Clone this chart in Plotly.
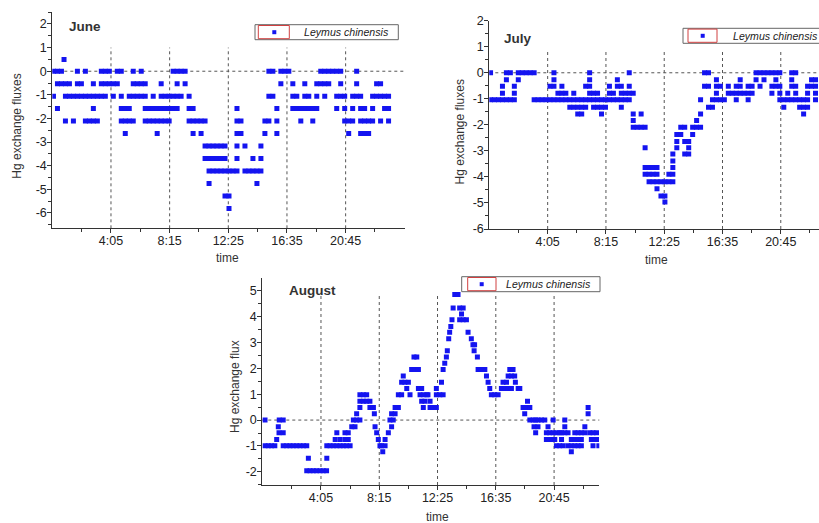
import plotly.graph_objects as go

# ---------------- data (time in minutes after midnight, flux values) ----------------
tick_vals = [245, 495, 745, 995, 1245]
tick_text = ["4:05", "8:15", "12:25", "16:35", "20:45"]
minor_x = [120, 370, 620, 870, 1120, 1370]
series_name = "Leymus chinensis"

june_levels = [0.5, 0, -0.53, -1.06, -1.58, -2.11, -2.64, -3.17, -3.70, -4.22, -4.75, -5.28, -5.81]
june_times = [
    [45],
    [0, 17, 34, 102, 136, 204, 221, 238, 272, 289, 340, 374, 510, 527, 544, 561, 918, 935, 969, 986, 1003,
     1139, 1156, 1173, 1190, 1207, 1224, 1292],
    [17, 34, 51, 68, 102, 119, 170, 204, 221, 238, 255, 272, 340, 357, 374, 391, 459, 527, 561, 969, 1020,
     1071, 1122, 1139, 1156, 1173, 1224, 1292, 1377, 1394],
    [0, 51, 68, 85, 102, 119, 136, 153, 170, 187, 204, 221, 255, 289, 323, 340, 357, 374, 391, 425, 459, 476,
     493, 510, 527, 544, 578, 918, 935, 1020, 1037, 1071, 1088, 1122, 1156, 1207, 1224, 1241, 1275, 1292,
     1309, 1360, 1377, 1394, 1411, 1428],
    [17, 170, 289, 306, 323, 391, 408, 425, 442, 459, 476, 493, 510, 527, 578, 595, 782, 952, 1020, 1037,
     1054, 1071, 1088, 1105, 1122, 1207, 1241, 1275, 1309, 1326, 1360, 1411, 1428],
    [51, 85, 136, 153, 170, 187, 289, 306, 323, 340, 391, 408, 425, 442, 459, 476, 493, 578, 595, 612, 629,
     646, 782, 799, 901, 918, 952, 1054, 1105, 1241, 1258, 1275, 1309, 1326, 1343, 1360, 1394, 1428],
    [306, 442, 595, 629, 782, 799, 901, 952, 1258, 1309, 1326, 1343],
    [646, 663, 680, 697, 714, 731, 782, 816, 884],
    [646, 663, 680, 697, 714, 731, 782, 850, 884],
    [663, 680, 697, 714, 731, 748, 765, 782, 816, 833, 850, 867, 884],
    [663, 867],
    [731, 748],
    [748],
]

july_levels = [0, -0.27, -0.52, -0.79, -1.04, -1.32, -1.58, -1.83, -2.09, -2.37, -2.64, -2.88, -3.12,
               -3.39, -3.64, -3.90, -4.19, -4.45, -4.73, -4.96]
july_times = [
    [0, 68, 85, 119, 136, 153, 170, 187, 272, 425, 595, 918, 935, 1139, 1156, 1173, 1190, 1207, 1224, 1241,
     1292, 1309],
    [68, 119, 272, 425, 544, 969, 1071, 1139, 1173, 1224, 1292, 1377, 1394],
    [51, 102, 255, 272, 306, 408, 425, 510, 544, 561, 595, 918, 935, 969, 986, 1020, 1054, 1071, 1105, 1122,
     1156, 1207, 1224, 1241, 1292, 1309, 1360, 1377, 1394],
    [51, 102, 289, 306, 323, 357, 425, 442, 459, 510, 527, 561, 578, 595, 612, 969, 1020, 1037, 1054, 1071,
     1088, 1105, 1122, 1207, 1241, 1275, 1309, 1360, 1394],
    [0, 17, 34, 51, 68, 85, 102, 187, 204, 221, 238, 255, 272, 289, 306, 323, 340, 357, 374, 391, 408, 425,
     442, 459, 476, 493, 510, 527, 544, 561, 578, 595, 901, 952, 969, 986, 1003, 1054, 1105, 1241, 1258,
     1275, 1292, 1309, 1326, 1343, 1360, 1394],
    [340, 357, 374, 391, 408, 442, 459, 476, 493, 561, 935, 952, 1258, 1326, 1343, 1360],
    [374, 391, 476, 612, 646, 901, 1343],
    [612, 884],
    [612, 629, 646, 663, 816, 833, 867, 884, 901],
    [799, 816, 867],
    [799, 833, 850],
    [663, 799, 850],
    [782, 833, 850],
    [782],
    [663, 680, 697, 714, 782],
    [663, 680, 697, 714, 765, 782],
    [680, 697, 714, 731, 748, 765, 782],
    [714],
    [731, 748],
    [748],
]

aug_levels = [-1.96, -1.48, -1.22, -0.99, -0.75, -0.49, -0.26, 0, 0.24, 0.49, 0.73, 0.98, 1.22, 1.46,
              1.7, 1.95, 2.2, 2.44, 2.68, 2.91, 3.14, 3.39, 3.62, 3.88, 4.1, 4.33, 4.85]
aug_times = [
    [184, 198, 212, 226, 241, 255, 269],
    [191, 270],
    [510, 1319],
    [5, 19, 33, 47, 83, 98, 112, 126, 141, 155, 170, 184, 270, 284, 298, 313, 327, 341, 355, 370, 498, 505,
     520, 1255, 1269, 1284, 1305, 1319, 1334, 1348, 1362, 1412, 1437],
    [55, 306, 327, 348, 362, 491, 520, 1212, 1226, 1234, 1248, 1277, 1319, 1334, 1348, 1362, 1405, 1420, 1427],
    [65, 83, 313, 348, 362, 484, 534, 1166, 1212, 1226, 1241, 1255, 1269, 1277, 1291, 1305, 1334, 1348,
     1362, 1377, 1398, 1412, 1427],
    [62, 377, 391, 477, 548, 1159, 1176, 1219, 1291, 1377],
    [5, 66, 83, 384, 398, 412, 541, 555, 1141, 1155, 1166, 1176, 1191, 1205, 1241, 1291],
    [398, 474, 548, 563, 1119, 1391],
    [412, 455, 470, 563, 577, 684, 713, 726, 740, 1112, 1126, 1141, 1391],
    [412, 427, 441, 455, 677, 691, 713, 1131],
    [412, 427, 441, 577, 591, 627, 670, 684, 699, 704, 740, 755, 769, 976, 990, 1005],
    [613, 663, 677, 740, 969, 1019, 1033, 1048, 1062, 1091, 1098],
    [591, 605, 620, 762, 962, 1026, 1041, 1079],
    [598, 955, 1048, 1062, 1076],
    [634, 648, 663, 769, 919, 933, 948, 1055, 1069],
    [776],
    [644, 656, 783, 916],
    [787, 902],
    [897, 904],
    [793, 890],
    [797, 876],
    [802],
    [807, 840, 855, 869],
    [848],
    [812, 840, 855],
    [819, 833],
]


def flatten(levels, times):
    xs, ys = [], []
    for lvl, ts in zip(levels, times):
        xs.extend(ts)
        ys.extend([lvl] * len(ts))
    return xs, ys


jx, jy = flatten(june_levels, june_times)
lx, ly = flatten(july_levels, july_times)
ax, ay = flatten(aug_levels, aug_times)

# ---------------- style ----------------
W, H = 819, 523
BLUE = "#1414f0"
AXC = "#333333"
GRID = "#555555"
FONT = "Liberation Sans, Arial, sans-serif"


def px_x(p):
    return p / W


def px_y(p):
    return (H - p) / H


fig = go.Figure()
marker = dict(symbol="square", size=5, color=BLUE, line=dict(width=0))
fig.add_trace(go.Scatter(x=jx, y=jy, mode="markers", marker=marker, name=series_name,
                         xaxis="x", yaxis="y", showlegend=False))
fig.add_trace(go.Scatter(x=lx, y=ly, mode="markers", marker=marker, name=series_name,
                         xaxis="x2", yaxis="y2", showlegend=False))
fig.add_trace(go.Scatter(x=ax, y=ay, mode="markers", marker=marker, name=series_name,
                         xaxis="x3", yaxis="y3", showlegend=False))


def xaxis(domain, rng, anchor):
    return dict(domain=domain, range=rng, anchor=anchor, tickmode="array", tickvals=tick_vals,
                ticktext=tick_text, ticks="outside", ticklen=4, tickwidth=1, tickcolor=AXC,
                showline=True, linecolor=AXC, linewidth=1, showgrid=False, zeroline=False,
                ticklabelstandoff=-3,
                tickfont=dict(size=12.5, color="#222", family=FONT),
                minor=dict(tickmode="array", tickvals=minor_x, ticks="outside", ticklen=3,
                           tickcolor=AXC, showgrid=False))


def yaxis(domain, rng, anchor, lo, hi):
    vals = list(range(lo, hi + 1))
    return dict(domain=domain, range=rng, anchor=anchor, tickmode="array", tickvals=vals,
                ticktext=[str(v) for v in vals], ticks="outside", ticklen=4, tickwidth=1,
                tickcolor=AXC, showline=True, linecolor=AXC, linewidth=1, showgrid=False,
                zeroline=False, ticklabelstandoff=-2,
                tickfont=dict(size=12.5, color="#222", family=FONT),
                minor=dict(tickmode="linear", tick0=0.5, dtick=1, ticks="outside", ticklen=3,
                           tickcolor=AXC, showgrid=False))


june_x = [px_x(52.3), px_x(405)]
june_y = [px_y(228.3), px_y(11.7)]
july_x = [px_x(489.3), 1.0]
july_y = [px_y(229), px_y(20.7)]
aug_x = [px_x(262.3), px_x(599.3)]
aug_y = [px_y(485), px_y(278.3)]

fig.update_layout(
    width=W, height=H, margin=dict(l=0, r=0, t=0, b=0, autoexpand=False),
    paper_bgcolor="white", plot_bgcolor="white", showlegend=False,
    xaxis=xaxis(june_x, [-5, 1498], "y"),
    yaxis=yaxis(june_y, [-6.65, 2.52], "x", -6, 2),
    xaxis2=xaxis(july_x, [-5.4, 1409], "y2"),
    yaxis2=yaxis(july_y, [-6, 2], "x2", -6, 2),
    xaxis3=xaxis(aug_x, [-6.7, 1439], "y3"),
    yaxis3=yaxis(aug_y, [-2.51, 5.48], "x3", -2, 5),
)

shapes = []
for xr, yr, lo, top in [("x", "y", -6.65, 1.0), ("x2", "y2", -6, 0.9), ("x3", "y3", -2.51, 4.8)]:
    for tv in tick_vals:
        shapes.append(dict(type="line", xref=xr, yref=yr, x0=tv, x1=tv, y0=lo, y1=top,
                           line=dict(color=GRID, width=1, dash="dot"), layer="below"))
    shapes.append(dict(type="line", xref=xr + " domain", yref=yr, x0=0, x1=1, y0=0, y1=0,
                       line=dict(color=GRID, width=1, dash="dot"), layer="below"))

# legend boxes (box, red frame around the symbol, symbol, label) in pixel positions
legend_boxes = [
    # box x0, x1, y0, y1, red x0, x1, symbol cx, cy, text x
    (255, 398.3, 24.7, 39.7, 258.3, 289.3, 274.3, 32.2, 301.5),
    (683, 830, 28.3, 43.3, 688, 717, 702.7, 35.8, 730.5),
    (461.7, 600, 276.7, 291.7, 467.7, 496, 481.7, 284.2, 504),
]
annotations = []
for bx0, bx1, by0, by1, rx0, rx1, cx, cy, tx in legend_boxes:
    shapes.append(dict(type="rect", xref="paper", yref="paper", x0=px_x(bx0), x1=px_x(bx1),
                       y0=px_y(by1), y1=px_y(by0), line=dict(color="#666", width=1),
                       fillcolor="white", layer="above"))
    shapes.append(dict(type="rect", xref="paper", yref="paper", x0=px_x(rx0), x1=px_x(rx1),
                       y0=px_y(by1 - 1), y1=px_y(by0 + 0.8), line=dict(color="#d04040", width=1),
                       layer="above"))
    shapes.append(dict(type="rect", xref="paper", yref="paper", x0=px_x(cx - 2), x1=px_x(cx + 2),
                       y0=px_y(cy + 2), y1=px_y(cy - 2), line=dict(width=0), fillcolor=BLUE,
                       layer="above"))
    annotations.append(dict(text=series_name, x=px_x(tx), y=px_y(cy), xref="paper", yref="paper",
                            xanchor="left", yanchor="middle", showarrow=False,
                            font=dict(size=10.6, color="#222", family=FONT, style="italic")))
fig.update_layout(shapes=shapes)

months = [
    dict(text="June", x=px_x(66.5), y=px_y(26), xanchor="left", yanchor="middle"),
    dict(text="July", x=px_x(501.5), y=px_y(38), xanchor="left", yanchor="middle"),
    dict(text="August", x=px_x(287), y=px_y(290), xanchor="left", yanchor="middle"),
]
for a in months:
    a.update(xref="paper", yref="paper", showarrow=False,
             font=dict(size=13.5, color="#333", family=FONT, weight="bold"))

titles = [
    dict(text="Hg exchange fluxes", x=px_x(16.7), y=px_y(126), textangle=-90),
    dict(text="Hg exchange fluxes", x=px_x(460), y=px_y(132.5), textangle=-90),
    dict(text="Hg exchange flux", x=px_x(235), y=px_y(386), textangle=-90),
    dict(text="time", x=px_x(227), y=px_y(258), textangle=0),
    dict(text="time", x=px_x(656.7), y=px_y(260), textangle=0),
    dict(text="time", x=px_x(437.7), y=px_y(517), textangle=0),
]
for a in titles:
    a.update(xref="paper", yref="paper", showarrow=False, xanchor="center", yanchor="middle",
             font=dict(size=12, color="#333", family=FONT))

fig.update_layout(annotations=annotations + months + titles)

# the page body has a default 8px margin; remove it so the figure sits at the window corner
fig.write_html("out.html", config={"displayModeBar": False, "staticPlot": True},
               post_script="document.body.style.margin='0';document.body.style.overflow='hidden';")
